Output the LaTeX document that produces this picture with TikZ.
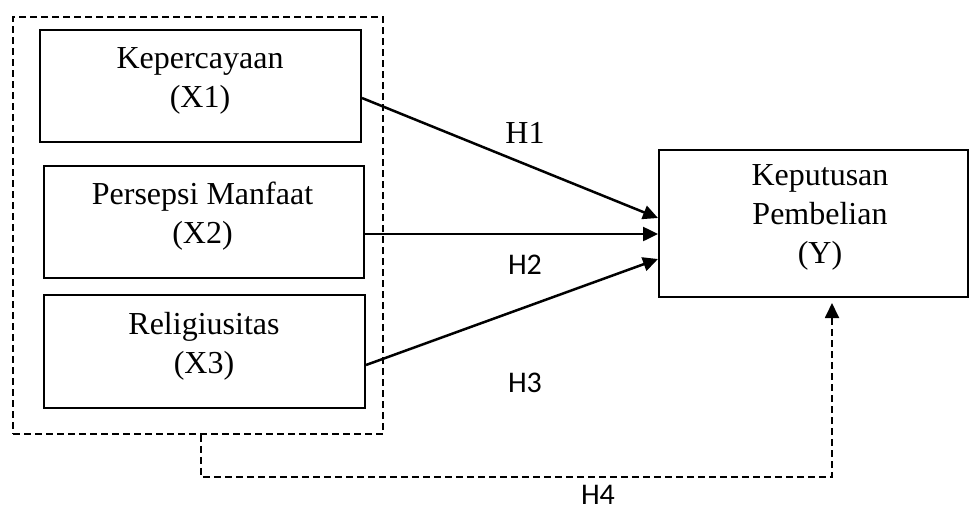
\documentclass[tikz,border=0pt]{standalone}
\usepackage{fontspec}
\setmainfont{Liberation Serif}
\newfontfamily\calib{Carlito}
\usetikzlibrary{arrows.meta}
\begin{document}
\begin{tikzpicture}[x=0.5pt,y=-0.5pt,
  box/.style={draw,line width=1pt,inner sep=0pt},
  lbl/.style={align=center,anchor=base,font=\fontsize{16}{19.5}\selectfont,inner sep=0pt},
  hs/.style={anchor=base,inner sep=0pt,font=\calib\fontsize{15}{17}\selectfont},
  hser/.style={anchor=base,inner sep=0pt,font=\fontsize{16}{19}\selectfont},
  tip/.style={-{Triangle[length=7.5pt,width=7pt]}},
  conn/.style={line width=1.25pt,tip},
  dashline/.style={line width=0.9pt,dash pattern=on 3.5pt off 2pt}]
\useasboundingbox (0,0) rectangle (970,509);
% boxes
\node[box,dashline,minimum width=185pt,minimum height=208.5pt] (outer) at (198,225.5) {};
\node[box,minimum width=160.5pt,minimum height=56pt] (b1) at (200.5,86) {};
\node[box,minimum width=160pt,minimum height=56pt] (b2) at (204,222) {};
\node[box,minimum width=160.5pt,minimum height=56.5pt] (b3) at (204.5,351.5) {};
\node[box,minimum width=154.5pt,minimum height=73.5pt] (Y) at (813.5,223.5) {};
% texts (anchor base = baseline of last line)
\node[lbl] (t1) at (200,107) {Kepercayaan\\(X1)};
\node[lbl] (t2) at (202.5,243) {Persepsi Manfaat\\(X2)};
\node[lbl] (t3) at (204,373) {Religiusitas\\(X3)};
\node[lbl] (ty) at (820,263) {Keputusan\\Pembelian\\(Y)};
% connectors
\draw[conn] ([yshift=-6pt]b1.east) -- ([yshift=2.75pt]Y.west);
\draw[conn] ([yshift=-6pt]b2.east) -- ([yshift=-5.25pt]Y.west);
\draw[conn] ([yshift=-6.75pt]b3.east) -- ([yshift=-17.75pt]Y.west);
\coordinate (c4) at (201,477);
\draw[dashline,tip] ([xshift=1.5pt]outer.south) -- (c4) -| ([xshift=9.25pt,yshift=-2.5pt]Y.south);
% labels
\node[hser] (h1) at (525,143) {H1};
\node[hs] (h2) at (525,274) {H2};
\node[hs] (h3) at (525,392) {H3};
\node[hs] (h4) at (598,504) {H4};
\end{tikzpicture}
\end{document}
